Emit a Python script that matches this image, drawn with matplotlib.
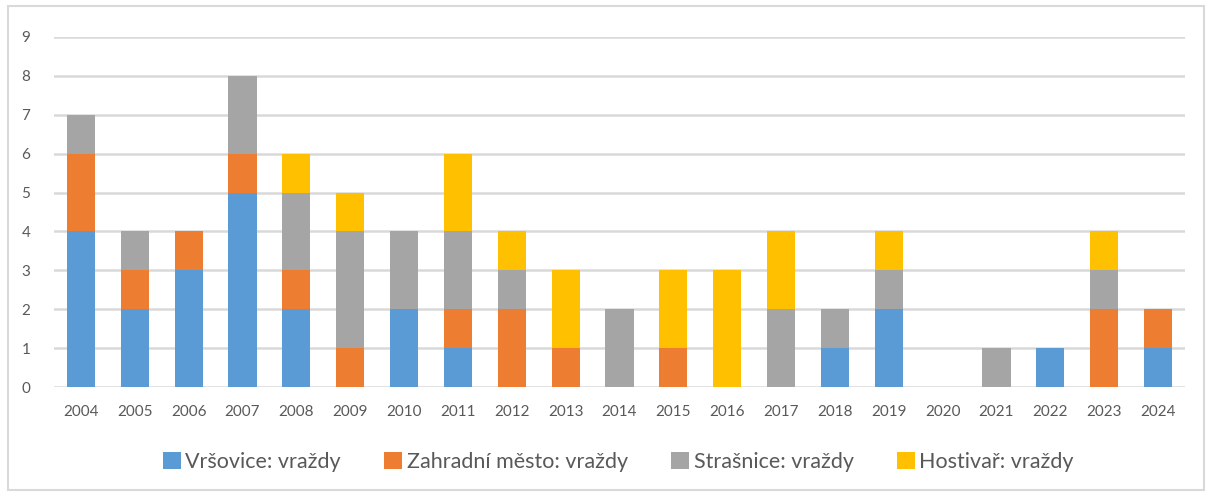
import matplotlib
matplotlib.use("Agg")
import matplotlib.pyplot as plt
import numpy as np
from matplotlib.patches import Rectangle

years = [str(y) for y in range(2004, 2025)]
vrsovice   = [4, 2, 3, 5, 2, 0, 2, 1, 0, 0, 0, 0, 0, 0, 1, 2, 0, 0, 1, 0, 1]
zahradni   = [2, 1, 1, 1, 1, 1, 0, 1, 2, 1, 0, 1, 0, 0, 0, 0, 0, 0, 0, 2, 1]
strasnice  = [1, 1, 0, 2, 2, 3, 2, 2, 1, 0, 2, 0, 0, 2, 1, 1, 0, 1, 0, 1, 0]
hostivar   = [0, 0, 0, 0, 1, 1, 0, 2, 1, 2, 0, 2, 3, 2, 0, 1, 0, 0, 0, 1, 0]
labels = ["Vršovice: vraždy", "Zahradní město: vraždy", "Strašnice: vraždy", "Hostivař: vraždy"]
colors = ["#5B9BD5", "#ED7D31", "#A5A5A5", "#FFC000"]
series = [vrsovice, zahradni, strasnice, hostivar]

plt.rcParams['font.family'] = ['Lato', 'DejaVu Sans']
fig = plt.figure(figsize=(12.1, 4.94), dpi=100)
ax = fig.add_axes([54/1210, 1 - 387/494, 1131/1210, 350/494])

x = np.arange(len(years))
bottom = np.zeros(len(years))
for vals, lab, col in zip(series, labels, colors):
    v = np.array(vals, dtype=float)
    ax.bar(x, v, bottom=bottom, width=0.52, color=col, label=lab, zorder=3)
    bottom += v

ax.set_xlim(-0.5, len(years) - 0.5)
ax.set_ylim(0, 9)
ax.set_yticks(range(0, 10))
ax.set_xticks(x)
ax.set_xticklabels(years)
ax.grid(axis='y', color='#D9D9D9', linewidth=1.8, zorder=0)
for s in ax.spines.values():
    s.set_visible(False)
ax.tick_params(axis='both', length=0, labelsize=11, labelcolor='#595959')
ax.tick_params(axis='y', pad=17)
ax.tick_params(axis='x', pad=13)

leg = fig.legend(loc='center', bbox_to_anchor=(0.511, 1 - 462/494), ncol=4, frameon=False,
                 fontsize=15.5, labelcolor='#595959', handlelength=0.85, handleheight=0.85,
                 handletextpad=0.2, columnspacing=2.0)

fig.patches.append(Rectangle((8/1210, 4/494), 1196/1210, 484/494, transform=fig.transFigure,
                             fill=False, edgecolor='#D9D9D9', linewidth=1.5))
fig.savefig("out.png", dpi=100)
